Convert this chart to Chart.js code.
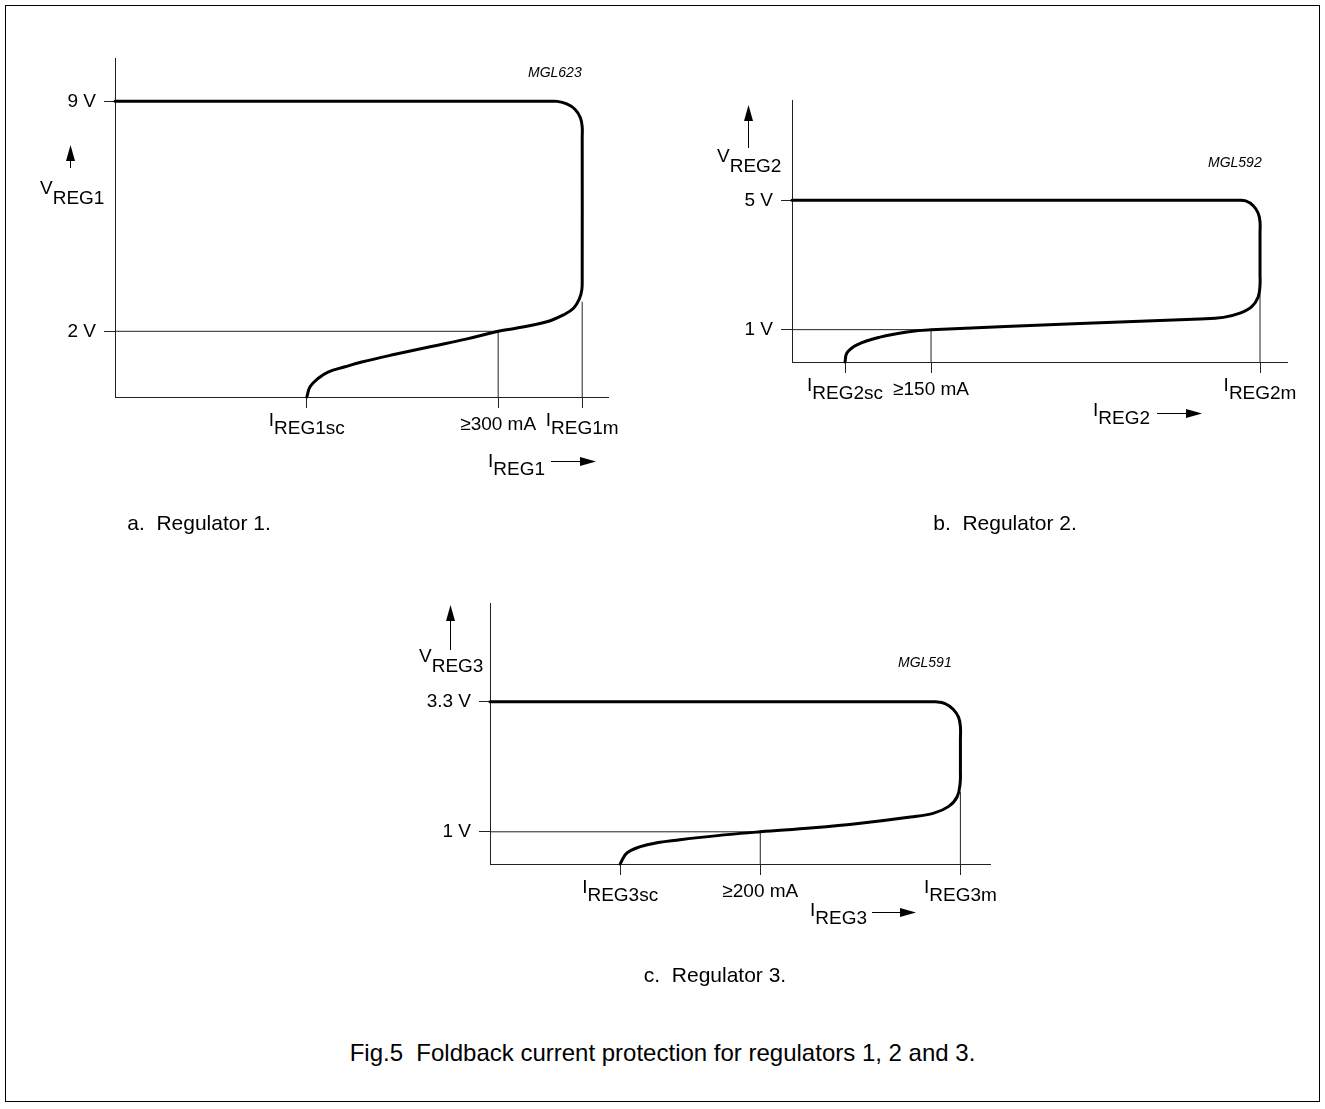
<!DOCTYPE html>
<html>
<head>
<meta charset="utf-8">
<title>Fig.5 Foldback current protection</title>
<script src="https://cdn.jsdelivr.net/npm/chart.js@4.4.1/dist/chart.umd.min.js"></script>
<style>
  html, body { margin: 0; padding: 0; background: #fff; }
  body { position: relative; width: 1325px; height: 1109px; overflow: hidden;
         font-family: "Liberation Sans", Arial, Helvetica, sans-serif; color: #000; }
  #frame { position: absolute; left: 5px; top: 5px; width: 1313px; height: 1095px; border: 1px solid #000; }
  canvas { position: absolute; }
  #caption { position: absolute; left: 0; top: 1039px; width: 1325px; text-align: center;
             font-size: 24px; line-height: 27px; white-space: pre; }
</style>
</head>
<body>
<div id="frame"></div>
<canvas id="reg1" width="660" height="560" style="left:0px;top:0px"></canvas>
<canvas id="reg2" width="650" height="560" style="left:670px;top:0px"></canvas>
<canvas id="reg3" width="700" height="440" style="left:330px;top:560px"></canvas>
<div id="caption">Fig.5  Foldback current protection for regulators 1, 2 and 3.</div>

<script>
// ---- Regulator 1: output voltage versus load current (mA, V) ----
const reg1Current = [0, 300, 340, 346.2, 353.7, 360.1, 364.3, 365.8, 365.8, 365.8, 365.5, 363.7, 359, 351.1, 338.1, 312, 300, 275.7, 246.7, 219.3, 193.2, 180.1, 166.8, 159.2, 152.7, 150.2];
const reg1Voltage = [9, 9, 9, 9, 8.92, 8.76, 8.51, 8.22, 7.9, 3.6, 3.26, 3.0, 2.7, 2.5, 2.29, 2.08, 2.0, 1.77, 1.53, 1.30, 1.065, 0.92, 0.76, 0.57, 0.31, 0];
const reg1CurrentTicks = [150.2, 300, 365.8];
const reg1CurrentTickLabels = [['I', 'REG1sc'], ['≥300 mA'], ['I', 'REG1m']];
const reg1VoltageTicks = [2, 9];
const reg1VoltageTickLabels = ['2 V', '9 V'];
const reg1MaxMarkTop = 2.9;

// ---- Regulator 2 ----
const reg2Current = [0, 300, 474, 480, 489.5, 497.6, 502.9, 504.9, 504.9, 504.9, 504.9, 503, 496, 483.3, 465.3, 440.1, 310.7, 150, 124, 95, 70.1, 59.3, 57.2];
const reg2Voltage = [5, 5, 5, 5, 4.98, 4.83, 4.6, 4.33, 4.0, 2.7, 2.38, 2.02, 1.71, 1.51, 1.38, 1.33, 1.19, 1.0, 0.93, 0.77, 0.53, 0.28, 0];
const reg2CurrentTicks = [57.2, 150, 504.9];
const reg2CurrentTickLabels = [['I', 'REG2sc'], ['≥150 mA'], ['I', 'REG2m']];
const reg2VoltageTicks = [1, 5];
const reg2VoltageTickLabels = ['1 V', '5 V'];
const reg2MaxMarkTop = 2.1;

// ---- Regulator 3 ----
const reg3Current = [0, 300, 324, 329.6, 336.7, 342.7, 346.7, 348.1, 348.1, 348.1, 347.9, 345.7, 339.5, 328.4, 311.1, 274.1, 239.3, 200, 175.6, 140.7, 116.3, 101.5, 96.3];
const reg3Voltage = [3.3, 3.3, 3.3, 3.3, 3.27, 3.17, 3.03, 2.86, 2.6, 2.1, 1.86, 1.62, 1.45, 1.33, 1.26, 1.15, 1.07, 1.0, 0.95, 0.86, 0.77, 0.63, 0.43];
const reg3CurrentTicks = [96.3, 200, 348.1];
const reg3CurrentTickLabels = [['I', 'REG3sc'], ['≥200 mA'], ['I', 'REG3m']];
const reg3VoltageTicks = [1, 3.3];
const reg3VoltageTickLabels = ['1 V', '3.3 V'];
const reg3MaxMarkTop = 1.71;

const FONT = '"Liberation Sans", Arial, Helvetica, sans-serif';
const LABEL_SIZE = 19;
Chart.defaults.font.family = FONT;
Chart.defaults.font.size = LABEL_SIZE;
Chart.defaults.color = '#000';

const toPoints = (xs, ys) => xs.map((x, i) => ({ x, y: ys[i] }));

// text with a lowered subscript part, e.g. I + REG1sc
function drawSub(ctx, main, sub, x, baseline, rise, align) {
  const wm = ctx.measureText(main).width;
  const ws = ctx.measureText(sub).width;
  const x0 = align === 'center' ? x - (wm + ws) / 2 : x;
  ctx.textAlign = 'left';
  ctx.fillText(main, x0, baseline - rise);
  ctx.fillText(sub, x0 + wm, baseline);
}

function arrowRight(ctx, x1, x2, y) {
  ctx.beginPath(); ctx.moveTo(x1, y + 0.5); ctx.lineTo(x2 - 10, y + 0.5); ctx.stroke();
  ctx.beginPath(); ctx.moveTo(x2, y + 0.5); ctx.lineTo(x2 - 16, y - 4); ctx.lineTo(x2 - 16, y + 5); ctx.closePath(); ctx.fill();
}

function arrowUp(ctx, x, yTop, yBottom) {
  ctx.beginPath(); ctx.moveTo(x + 0.5, yBottom); ctx.lineTo(x + 0.5, yTop + 10); ctx.stroke();
  ctx.beginPath(); ctx.moveTo(x + 0.5, yTop); ctx.lineTo(x - 4, yTop + 16); ctx.lineTo(x + 5, yTop + 16); ctx.closePath(); ctx.fill();
}

// labels, axis names, drawing code and sub-figure title
function makeFigText(t) {
  return {
    id: 'figText',
    afterDraw(chart) {
      const ctx = chart.ctx;
      const xs = chart.scales.x;
      const b = chart.chartArea.bottom;
      ctx.save();
      ctx.fillStyle = '#000';
      ctx.strokeStyle = '#000';
      ctx.lineWidth = 1;
      ctx.textBaseline = 'alphabetic';
      ctx.font = LABEL_SIZE + 'px ' + FONT;
      t.ticks.forEach((v, i) => {
        const lab = t.tickLabels[i];
        const cx = xs.getPixelForValue(v);
        if (lab.length === 1) {
          ctx.textAlign = 'center';
          ctx.fillText(lab[0], cx, b + 33);
        } else {
          drawSub(ctx, lab[0], lab[1], cx, b + 37, 8, 'center');
        }
      });
      drawSub(ctx, t.yName[0], t.yName[1], t.yNameAt[0], t.yNameAt[1], 10, 'left');
      arrowUp(ctx, t.yArrow[0], t.yArrow[1], t.yArrow[2]);
      drawSub(ctx, t.xName[0], t.xName[1], t.xNameAt[0], t.xNameAt[1], 8, 'left');
      arrowRight(ctx, t.xArrow[0], t.xArrow[1], t.xArrow[2]);
      ctx.font = 'italic 14px ' + FONT;
      ctx.textAlign = 'left';
      ctx.fillText(t.code, t.codeAt[0], t.codeAt[1]);
      ctx.font = '21px ' + FONT;
      ctx.textAlign = 'center';
      ctx.fillText(t.title, t.titleAt[0], t.titleAt[1]);
      ctx.restore();
    }
  };
}

function makeChart(id, d, frame, text) {
  const curve = toPoints(d.current, d.voltage);
  const knee = d.currentTicks[1];
  const kneeV = d.voltageTicks[0];
  const yMin = frame.y[0];
  const guides = [
    [{ x: frame.x[0], y: kneeV }, { x: knee, y: kneeV }],
    [{ x: knee, y: yMin }, { x: knee, y: kneeV }],
    [{ x: d.currentTicks[2], y: yMin }, { x: d.currentTicks[2], y: d.maxMarkTop }]
  ];
  const datasets = [{
    data: curve, borderColor: '#000', borderWidth: 3, tension: 0.4,
    pointRadius: 0, borderCapStyle: 'round', borderJoinStyle: 'round', clip: false
  }].concat(guides.map(g => ({
    data: g, borderColor: '#222', borderWidth: 1, tension: 0, pointRadius: 0, clip: false
  })));

  return new Chart(document.getElementById(id), {
    type: 'line',
    data: { datasets },
    options: {
      responsive: false,
      animation: false,
      devicePixelRatio: 1,
      parsing: false,
      layout: { padding: frame.padding },
      plugins: { legend: { display: false }, tooltip: { enabled: false } },
      scales: {
        x: {
          type: 'linear', min: frame.x[0], max: frame.x[1],
          afterBuildTicks: s => { s.ticks = d.currentTicks.map(v => ({ value: v })); },
          afterFit: s => { s.height = 20; },
          ticks: { display: false },
          grid: { drawOnChartArea: false, drawTicks: true, tickLength: 11, color: '#222', lineWidth: 1 },
          border: { display: true, color: '#222', width: 1 }
        },
        y: {
          type: 'linear', min: frame.y[0], max: frame.y[1],
          afterBuildTicks: s => { s.ticks = d.voltageTicks.map(v => ({ value: v })); },
          afterFit: s => { s.width = frame.yWidth; },
          ticks: {
            padding: 8, color: '#000', font: { size: LABEL_SIZE, family: FONT },
            callback: v => d.voltageTickLabels[d.voltageTicks.indexOf(v)]
          },
          grid: { drawOnChartArea: false, drawTicks: true, tickLength: 11, color: '#222', lineWidth: 1 },
          border: { display: true, color: '#222', width: 1 }
        }
      }
    },
    plugins: [makeFigText(text)]
  });
}

makeChart('reg1',
  { current: reg1Current, voltage: reg1Voltage, currentTicks: reg1CurrentTicks,
    voltageTicks: reg1VoltageTicks, voltageTickLabels: reg1VoltageTickLabels, maxMarkTop: reg1MaxMarkTop },
  { x: [0, 386], y: [0, 10.32], yWidth: 115, padding: { left: 0, top: 58, right: 52, bottom: 143 } },
  { ticks: reg1CurrentTicks, tickLabels: reg1CurrentTickLabels,
    yName: ['V', 'REG1'], yNameAt: [40, 204], yArrow: [70, 145, 168],
    xName: ['I', 'REG1'], xNameAt: [488, 475], xArrow: [551, 596, 461],
    code: 'MGL623', codeAt: [528, 77],
    title: 'a.  Regulator 1.', titleAt: [199, 530] });

makeChart('reg2',
  { current: reg2Current, voltage: reg2Voltage, currentTicks: reg2CurrentTicks,
    voltageTicks: reg2VoltageTicks, voltageTickLabels: reg2VoltageTickLabels, maxMarkTop: reg2MaxMarkTop },
  { x: [0, 534], y: [0, 8.1], yWidth: 122, padding: { left: 0, top: 100, right: 33, bottom: 178 } },
  { ticks: reg2CurrentTicks, tickLabels: reg2CurrentTickLabels,
    yName: ['V', 'REG2'], yNameAt: [47, 172], yArrow: [78, 105, 148],
    xName: ['I', 'REG2'], xNameAt: [423, 424], xArrow: [487, 532, 413],
    code: 'MGL592', codeAt: [538, 167],
    title: 'b.  Regulator 2.', titleAt: [335, 530] });

makeChart('reg3',
  { current: reg3Current, voltage: reg3Voltage, currentTicks: reg3CurrentTicks,
    voltageTicks: reg3VoltageTicks, voltageTickLabels: reg3VoltageTickLabels, maxMarkTop: reg3MaxMarkTop },
  { x: [0, 370], y: [0.43, 5.05], yWidth: 160, padding: { left: 0, top: 43, right: 40, bottom: 116 } },
  { ticks: reg3CurrentTicks, tickLabels: reg3CurrentTickLabels,
    yName: ['V', 'REG3'], yNameAt: [89, 112], yArrow: [120, 45, 90],
    xName: ['I', 'REG3'], xNameAt: [480, 364], xArrow: [542, 586, 352],
    code: 'MGL591', codeAt: [568, 107],
    title: 'c.  Regulator 3.', titleAt: [385, 422] });
</script>
</body>
</html>
